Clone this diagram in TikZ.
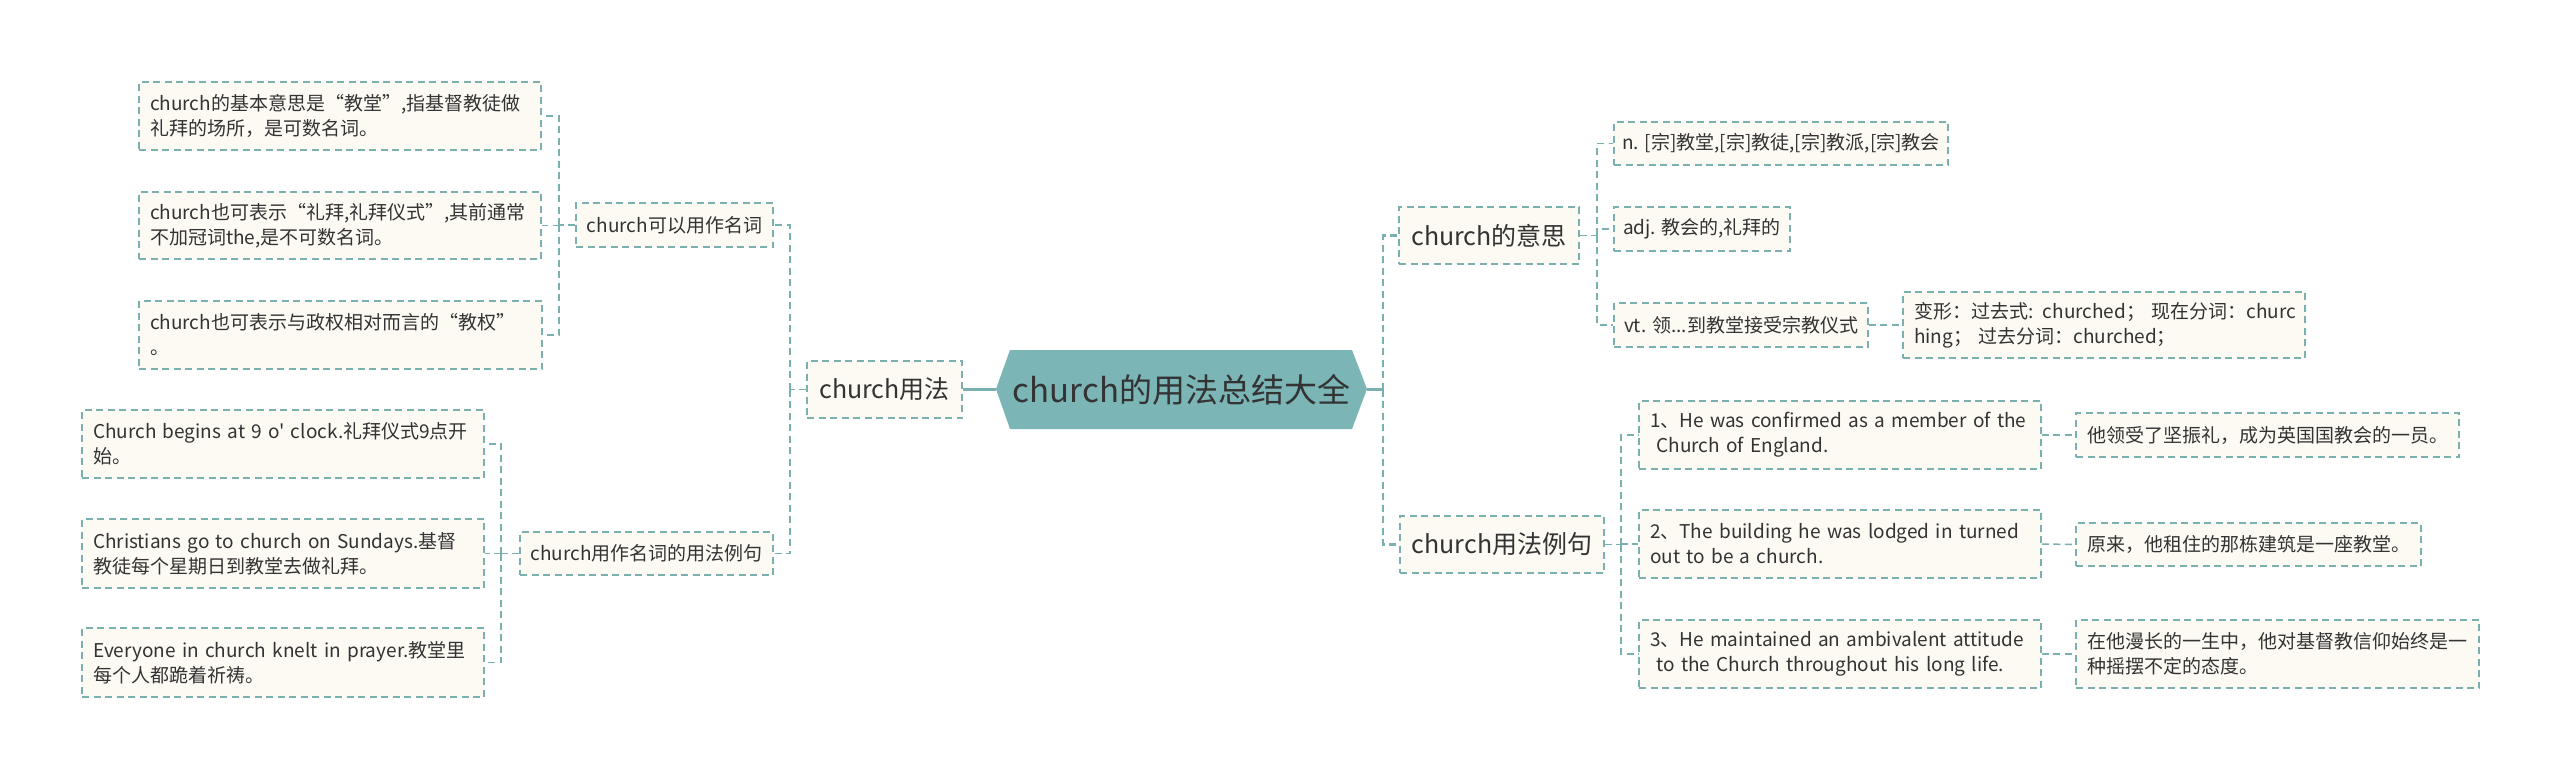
\documentclass[tikz,border=0pt]{standalone}
\usepackage{fontspec}
\setmainfont{Noto Sans CJK SC}[Ligatures=TeXOff]
\definecolor{lineC}{HTML}{7AB0B0}
\definecolor{rootC}{HTML}{7BB5B5}
\definecolor{boxC}{HTML}{FCFAF3}
\definecolor{txtC}{HTML}{333333}
\tikzset{
 bx/.style={draw=lineC, line width=1.5pt, dash pattern=on 7pt off 4.5pt, fill=boxC, text=txtC, font=\fontsize{19}{25}\selectfont, inner sep=0pt},
 sgl/.style={bx, align=center},
 mlt/.style={bx, align=left, inner xsep=11pt},
 big/.style={font=\fontsize{25}{30}\selectfont},
 conn/.style={draw=lineC, line width=1.5pt, dash pattern=on 7pt off 4.5pt},
 connb/.style={draw=lineC, line width=2.5pt, dash pattern=on 7pt off 4.5pt},
 solidc/.style={draw=lineC, line width=3pt},
}
\begin{document}
\begin{tikzpicture}[x=1pt,y=-1pt]
\useasboundingbox[fill=white] (0,0) rectangle (2560,779);
% root
\fill[rootC] (996,389) -- (1010,350) -- (1352,350) -- (1367,389) -- (1352,429) -- (1010,429) -- cycle;
\node[font=\fontsize{33}{40}\selectfont, text=txtC, minimum width=371pt, minimum height=79pt, inner sep=0pt] (root) at (1181.5,389.5) {church的用法总结大全};
% level 2
\node[sgl, big, minimum width=155pt, minimum height=57pt] (yf) at (884.5,389.5) {church用法};
\node[sgl, big, minimum width=180pt, minimum height=57pt] (ys) at (1489,235.5) {church的意思};
\node[sgl, big, minimum width=204pt, minimum height=57pt] (lj) at (1502,544.5) {church用法例句};
% level 3 left
\node[sgl, minimum width=197pt, minimum height=44pt] (mc) at (674.5,225) {church可以用作名词};
\node[sgl, minimum width=253pt, minimum height=43pt] (lj2) at (646.5,553.5) {church用作名词的用法例句};
% left leaves
\node[mlt, text width=380pt, minimum height=68pt] (a1) at (340,116) {\mbox{church的基本意思是“教堂”,指基督教徒做}\\\mbox{礼拜的场所，是可数名词。}};
\node[mlt, text width=380pt, minimum height=67pt] (a2) at (340,225.5) {\mbox{church也可表示“礼拜,礼拜仪式”,其前通常}\\\mbox{不加冠词the,是不可数名词。}};
\node[mlt, text width=381pt, minimum height=68pt] (a3) at (340.5,335) {\mbox{church也可表示与政权相对而言的“教权”}\\\mbox{。}};
\node[mlt, text width=380pt, minimum height=68pt] (b1) at (283,444) {\mbox{Church begins at 9 o' clock.礼拜仪式9点开}\\\mbox{始。}};
\node[mlt, text width=380pt, minimum height=69pt] (b2) at (283,553.5) {\mbox{Christians go to church on Sundays.基督}\\\mbox{教徒每个星期日到教堂去做礼拜。}};
\node[mlt, text width=380pt, minimum height=69pt] (b3) at (283,662.5) {\mbox{Everyone in church knelt in prayer.教堂里}\\\mbox{每个人都跪着祈祷。}};
% right leaves
\node[sgl, minimum width=334pt, minimum height=43pt] (c1) at (1781,143.5) {n. [宗]教堂,[宗]教徒,[宗]教派,[宗]教会};
\node[sgl, minimum width=176pt, minimum height=44pt] (c2) at (1702,229) {adj. 教会的,礼拜的};
\node[sgl, minimum width=254pt, minimum height=44pt] (c3) at (1741,325) {vt. 领...到教堂接受宗教仪式};
\node[mlt, text width=380pt, minimum height=66pt] (c4) at (2104,325) {\mbox{变形：过去式: churched；\ 现在分词：churc}\\\mbox{hing；\ 过去分词：churched；}};
\node[mlt, text width=380pt, minimum height=68pt] (d1) at (1840,435) {\mbox{1、He was confirmed as a member of the}\\\mbox{\ Church of England.}};
\node[mlt, text width=380pt, minimum height=68pt] (d2) at (1840,544) {\mbox{2、The building he was lodged in turned}\\\mbox{out to be a church.}};
\node[mlt, text width=380pt, minimum height=68pt] (d3) at (1840,654) {\mbox{3、He maintained an ambivalent attitude}\\\mbox{\ to the Church throughout his long life.}};
\node[sgl, minimum width=383pt, minimum height=44pt] (e1) at (2267.5,435) {他领受了坚振礼，成为英国国教会的一员。};
\node[sgl, minimum width=345pt, minimum height=43pt] (e2) at (2248.5,544.5) {原来，他租住的那栋建筑是一座教堂。};
\node[mlt, text width=381pt, minimum height=68pt] (e3) at (2277.5,654) {\mbox{在他漫长的一生中，他对基督教信仰始终是一}\\\mbox{种摇摆不定的态度。}};
% bus coordinates
\coordinate (lb) at (790,389.5);
\coordinate (mcb) at (559,225);
\coordinate (ljb) at (501,553.5);
\coordinate (rb) at (1383,389.5);
\coordinate (ysb) at (1597,235.5);
\coordinate (ljr) at (1621,544.5);
% connectors left
\draw[solidc] (root.west) -- (yf.east);
\draw[conn] (yf.west) -- (lb);
\draw[conn] (lb) |- (mc.east);
\draw[conn] (lb) |- (lj2.east);
\draw[conn] (mc.west) -- (mcb);
\draw[conn] (mcb) |- (a1.east);
\draw[conn] (mcb) |- (a2.east);
\draw[conn] (mcb) |- (a3.east);
\draw[conn] (lj2.west) -- (ljb);
\draw[conn] (ljb) |- (b1.east);
\draw[conn] (ljb) |- (b2.east);
\draw[conn] (ljb) |- (b3.east);
% connectors right
\draw[solidc] (root.east) -- (rb);
\draw[connb] (rb) |- (ys.west);
\draw[connb] (rb) |- (lj.west);
\draw[conn] (ys.east) -- (ysb);
\draw[conn] (ysb) |- (c1.west);
\draw[conn] (ysb) |- (c2.west);
\draw[conn] (ysb) |- (c3.west);
\draw[conn] (c3.east) -- (c4.west);
\draw[conn] (lj.east) -- (ljr);
\draw[conn] (ljr) |- (d1.west);
\draw[conn] (ljr) |- (d2.west);
\draw[conn] (ljr) |- (d3.west);
\draw[conn] (d1.east) -- (e1.west);
\draw[conn] (d2.east) -- (e2.west);
\draw[conn] (d3.east) -- (e3.west);
\end{tikzpicture}
\end{document}
